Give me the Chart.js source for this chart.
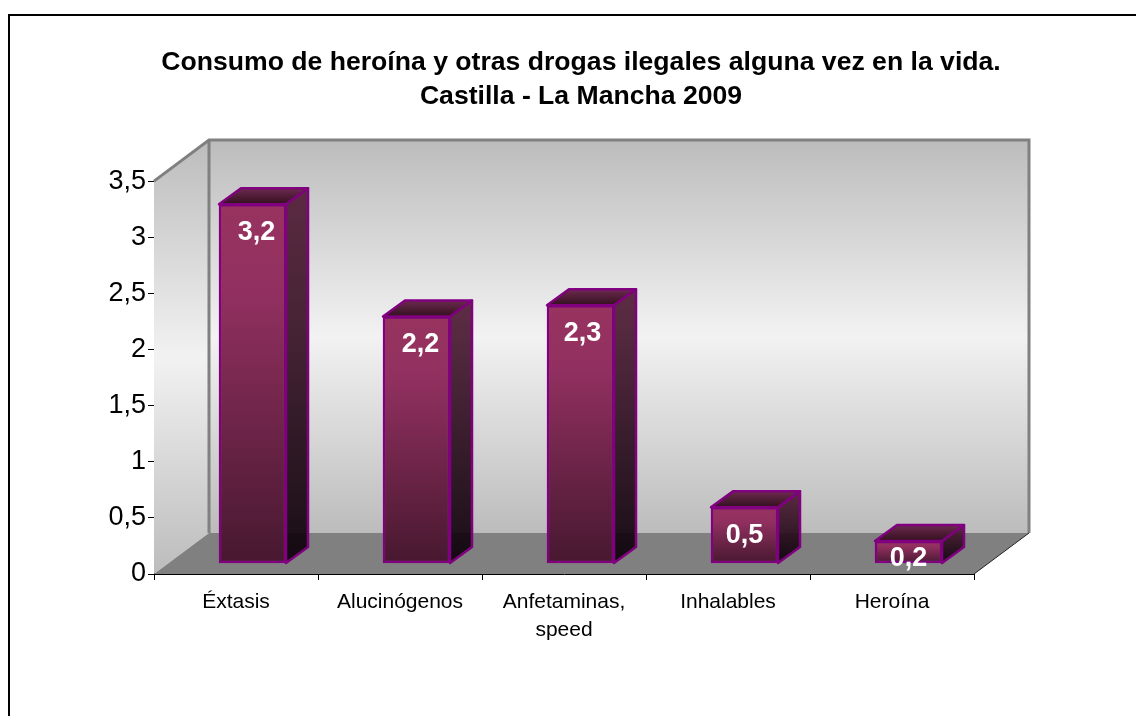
<!DOCTYPE html>
<html>
<head>
<meta charset="utf-8">
<title>Consumo de heroína</title>
<script src="https://cdn.jsdelivr.net/npm/chart.js@4/dist/chart.umd.min.js"></script>
<style>
  html, body { margin: 0; padding: 0; background: #fff; overflow: hidden; }
  canvas { display: block; }
</style>
</head>
<body>
<canvas id="myChart" width="1136" height="716"></canvas>
<script>
// Datos del gráfico
const categorias = ["Éxtasis", "Alucinógenos", ["Anfetaminas,", "speed"], "Inhalables", "Heroína"];
const valores = [3.2, 2.2, 2.3, 0.5, 0.2];
const tituloLineas = ["Consumo de heroína y otras drogas ilegales alguna vez en la vida.", "Castilla - La Mancha 2009"];
const etiquetasY = ["0", "0,5", "1", "1,5", "2", "2,5", "3", "3,5"];

// Profundidad de la caja 3D y de las barras
const caja = { dx: 55, dy: 41 };
const barra = { shiftX: 16.5, shiftY: 10.5, dx: 22, dy: 16 };
const ajusteEtiquetaX = [4, 4, 2, 0, 0]; // las etiquetas no quedan centradas del todo
const fuente = "'Liberation Sans', Arial, sans-serif";

function poly(ctx, pts, fill, stroke, lw) {
  ctx.beginPath();
  pts.forEach((p, i) => (i ? ctx.lineTo(p[0], p[1]) : ctx.moveTo(p[0], p[1])));
  ctx.closePath();
  if (fill) { ctx.fillStyle = fill; ctx.fill(); }
  if (stroke) { ctx.strokeStyle = stroke; ctx.lineWidth = lw; ctx.lineJoin = "round"; ctx.stroke(); }
}

function grad(ctx, y0, y1, stops) {
  const g = ctx.createLinearGradient(0, y0, 0, y1);
  stops.forEach(s => g.addColorStop(s[0], s[1]));
  return g;
}

// Paredes y suelo detrás de las barras
const paredes = {
  id: "paredes",
  beforeDatasetsDraw(chart) {
    const { ctx, chartArea: a } = chart;
    const tx = a.right + caja.dx, bx = a.left + caja.dx;
    const ty = a.top - caja.dy, by = a.bottom - caja.dy;
    const fondo = [[0, "#bcbcbc"], [0.5, "#f2f2f2"], [1, "#bcbcbc"]];
    ctx.save();
    poly(ctx, [[a.left, a.top], [bx, ty], [bx, by], [a.left, a.bottom]], grad(ctx, ty, a.bottom, fondo));
    poly(ctx, [[bx, ty], [tx, ty], [tx, by], [bx, by]], grad(ctx, ty, by, fondo));
    poly(ctx, [[a.left, a.bottom], [bx, by], [tx, by], [a.right, a.bottom]], "#808080");
    ctx.strokeStyle = "#808080";
    ctx.lineWidth = 3;
    ctx.beginPath();
    ctx.moveTo(a.left, a.top); ctx.lineTo(bx, ty); ctx.lineTo(tx, ty); ctx.lineTo(tx, by);
    ctx.moveTo(bx, ty); ctx.lineTo(bx, by);
    ctx.stroke();
    ctx.strokeStyle = "#222";
    ctx.lineWidth = 1;
    ctx.beginPath();
    ctx.moveTo(a.right, a.bottom); ctx.lineTo(tx, by);
    ctx.stroke();
    ctx.restore();
  }
};

// Caras lateral y superior de cada barra, y desplazamiento hacia el fondo
const barras3d = {
  id: "barras3d",
  beforeDatasetDraw(chart, args) {
    const { ctx } = chart;
    ctx.save();
    ctx.translate(barra.shiftX, -barra.shiftY);
    args.meta.data.forEach(el => {
      const l = el.x - el.width / 2, r = el.x + el.width / 2;
      poly(ctx, [[r, el.y], [r + barra.dx, el.y - barra.dy], [r + barra.dx, el.base - barra.dy], [r, el.base]],
        grad(ctx, el.y - barra.dy, el.base, [[0, "rgba(82,28,54,0.92)"], [1, "rgba(10,0,8,0.92)"]]), "#800080", 2.5);
      poly(ctx, [[l, el.y], [l + barra.dx, el.y - barra.dy], [r + barra.dx, el.y - barra.dy], [r, el.y]],
        grad(ctx, el.y - barra.dy, el.y, [[0, "#6d2a4e"], [1, "#33101f"]]), "#800080", 2.5);
    });
  },
  afterDatasetDraw(chart, args) {
    const { ctx } = chart;
    ctx.fillStyle = "#fff";
    ctx.font = "bold 27px " + fuente;
    ctx.textAlign = "center";
    ctx.textBaseline = "middle";
    args.meta.data.forEach((el, i) => {
      const txt = String(valores[i]).replace(".", ",");
      ctx.fillText(txt, el.x + ajusteEtiquetaX[i], Math.min(el.y + 28, el.base - 5) + 0.5);
    });
    ctx.restore();
  }
};

// Marco exterior del gráfico: sólo se ven el lado superior y el izquierdo
const marco = {
  id: "marco",
  afterLayout(chart) {
    // el título está centrado algo a la derecha del lienzo
    chart.titleBlock.left = 26;
    chart.titleBlock.right = 1136;
  },
  beforeDraw(chart) {
    const { ctx } = chart;
    ctx.save();
    ctx.strokeStyle = "#000";
    ctx.lineWidth = 2;
    ctx.beginPath();
    ctx.moveTo(9, 716); ctx.lineTo(9, 15); ctx.lineTo(1136, 15);
    ctx.stroke();
    ctx.restore();
  }
};

const data = {
  labels: categorias,
  datasets: [{
    data: valores,
    barThickness: 67,
    borderColor: "#800080",
    borderWidth: 2.5,
    borderSkipped: false,
    backgroundColor(c) {
      const esc = c.chart.scales.y;
      const y0 = esc ? esc.getPixelForValue(c.raw) : NaN;
      const y1 = esc ? esc.getPixelForValue(0) : NaN;
      if (!Number.isFinite(y0) || !Number.isFinite(y1)) return "#993366";
      return grad(c.chart.ctx, y0, y1, [[0, "#98335f"], [0.25, "#913060"], [1, "#47182f"]]);
    },
    clip: false
  }]
};

const config = {
  type: "bar",
  data: data,
  options: {
    responsive: false,
    animation: false,
    layout: { padding: { left: 84, right: 162, top: 0, bottom: 62 } },
    plugins: {
      legend: { display: false },
      tooltip: { enabled: false },
      title: {
        display: true,
        text: tituloLineas,
        color: "#000",
        font: { family: fuente, size: 26.6, weight: "bold", lineHeight: 1.28 },
        padding: { top: 46, bottom: 67 }
      }
    },
    scales: {
      x: {
        afterFit(s) { s.height = 80; },
        grid: { drawOnChartArea: false, color: "#000", tickLength: 6, offset: true },
        border: { color: "#000", width: 1 },
        ticks: { color: "#000", font: { family: fuente, size: 21, lineHeight: 1.33 }, maxRotation: 0, autoSkip: false, padding: 8 }
      },
      y: {
        afterFit(s) { s.width = 70; },
        min: 0,
        max: 3.5,
        grid: { drawOnChartArea: false, color: "#000", tickLength: 6 },
        border: { color: "#000", width: 1 },
        ticks: {
          stepSize: 0.5,
          color: "#000",
          font: { family: fuente, size: 27 },
          padding: 2,
          callback: (v, i) => etiquetasY[i]
        }
      }
    }
  },
  plugins: [marco, paredes, barras3d]
};

const ctx = document.getElementById("myChart").getContext("2d");
new Chart(ctx, config);
</script>
</body>
</html>
